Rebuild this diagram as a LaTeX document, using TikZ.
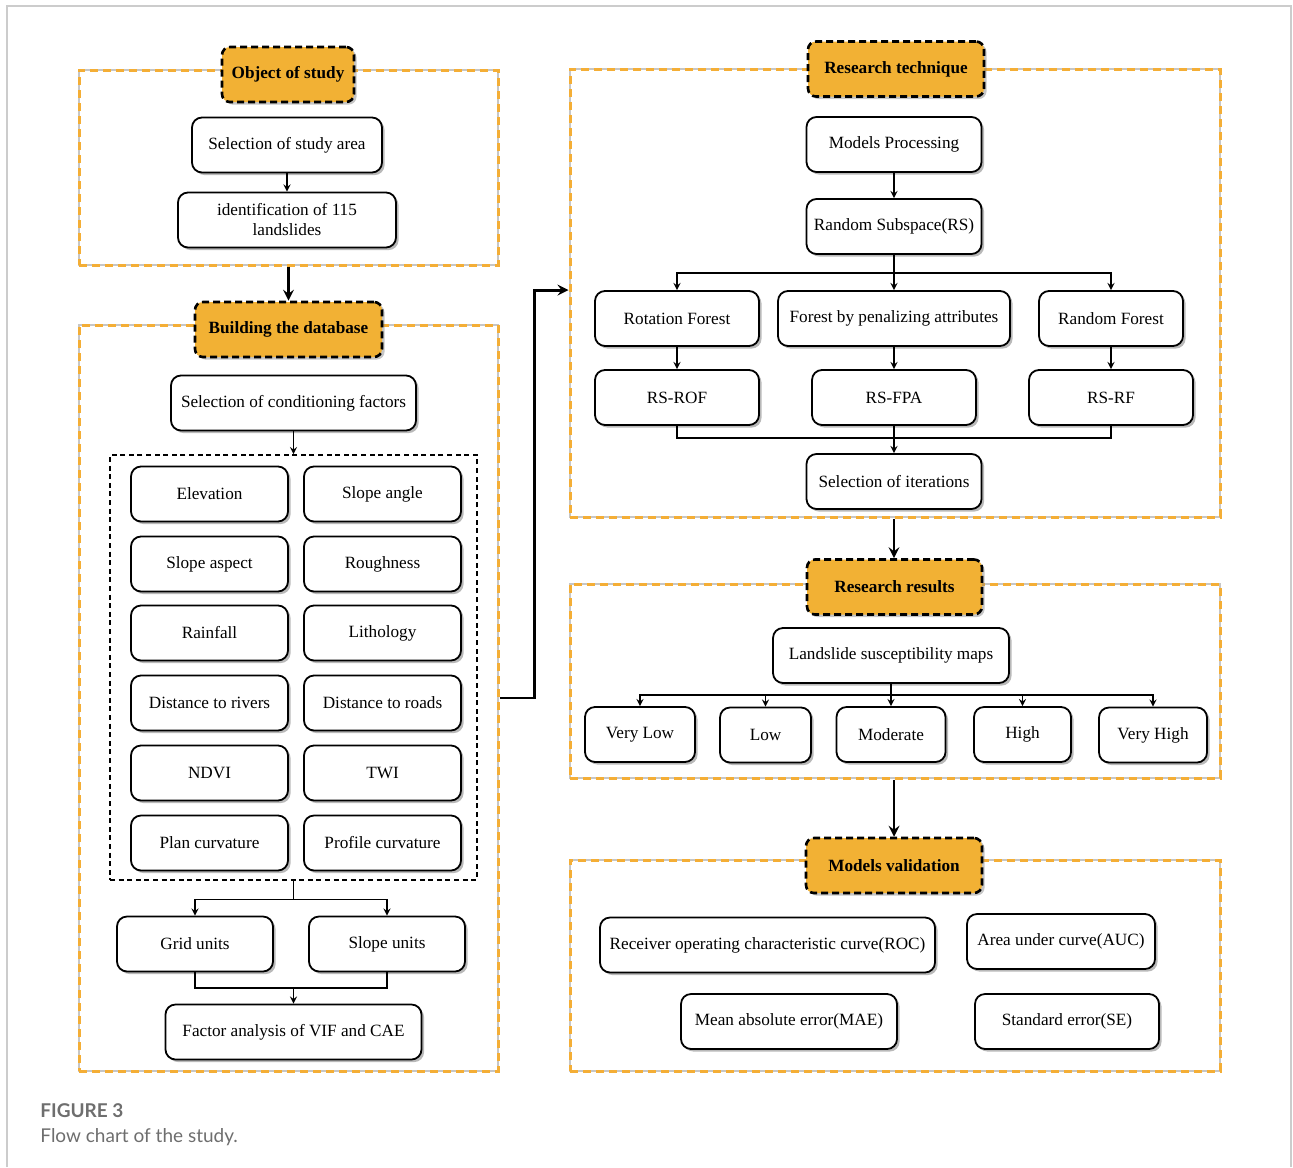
\documentclass[tikz,border=0pt]{standalone}
\usepackage{fontspec}
\setmainfont{Liberation Serif}
\newfontfamily\capfont{Lato}
\usepackage{xcolor}
\usepackage{tikz}
\usetikzlibrary{calc, shadows, arrows}
\definecolor{headfill}{HTML}{F2B134}
\definecolor{framedash}{HTML}{F4AE36}
\definecolor{capgray}{HTML}{6E6E6E}
\tikzstyle{block}    = [rectangle, rounded corners=5pt, draw=black, line width=0.9pt, fill=white, minimum height=27.5pt, inner sep=2pt, text centered, font=\fontsize{8.6}{10}\selectfont, drop shadow={shadow xshift=1.3pt, shadow yshift=-1.3pt, fill=black!50, opacity=0.55}]
\tikzstyle{header}   = [rectangle, rounded corners=4pt, draw=black, dashed, dash pattern=on 3.5pt off 2pt, line width=1.3pt, fill=headfill, minimum height=27.5pt, inner sep=2pt, text centered, font=\fontsize{8.6}{10}\selectfont\bfseries, drop shadow={shadow xshift=1.3pt, shadow yshift=-1.3pt, fill=black!50, opacity=0.45}]
\tikzstyle{stage}    = [rectangle, draw=framedash, dash pattern=on 4pt off 2.5pt, line width=1.5pt, preaction={draw=gray!45, solid, line width=1.1pt}, inner sep=0pt]
\tikzstyle{factorbox}= [rectangle, draw=black, dashed, dash pattern=on 2.5pt off 1.8pt, line width=0.8pt, inner sep=0pt]
\tikzstyle{arrow}    = [line width=0.6pt, ->, >=stealth]
\tikzstyle{link}     = [line width=0.6pt]
\tikzstyle{bigarrow} = [line width=1.4pt, ->, >=stealth]

\begin{document}
\begin{tikzpicture}[x=0.5pt, y=-0.5pt]
    \useasboundingbox (0,0) rectangle (1293,1167);
    \draw [gray!40, line width=1pt] (7,1167) -- (7,6) -- (1291,6) -- (1291,1167);

    % stage frames
    \node (objframe)  [stage, minimum width=209.5pt, minimum height=97.5pt] at (288.5,167.5) {};
    \node (dbframe)   [stage, minimum width=209.5pt, minimum height=373pt]  at (288.5,698) {};
    \node (techframe) [stage, minimum width=325pt,   minimum height=224pt]  at (895,293) {};
    \node (resframe)  [stage, minimum width=325pt,   minimum height=97pt]   at (895,681) {};
    \node (valframe)  [stage, minimum width=325pt,   minimum height=105.5pt] at (895,965.5) {};

    % headers
    \node (objhead)  [header, minimum width=66pt]   at (288,74.5)  {Object of study};
    \node (dbhead)   [header, minimum width=93.5pt] at (288.5,329.5) {Building the database};
    \node (techhead) [header, minimum width=88pt]   at (896,69)    {Research technique};
    \node (reshead)  [header, minimum width=87.5pt] at (894.5,587) {Research results};
    \node (valhead)  [header, minimum width=88pt]   at (894,865.5) {Models validation};

    % object of study
    \node (area)  [block, minimum width=95pt]  at (287,145) {Selection of study area};
    \node (ident) [block, minimum width=109pt, align=center] at (287,220) {identification of 115\\landslides};
    \draw [arrow] (area) -- (ident);

    % building the database
    \node (cond) [block, minimum width=122.5pt] at (293.5,403) {Selection of conditioning factors};
    \node (factors) [factorbox, minimum width=183.5pt, minimum height=212.5pt] at (293.5,667.5) {};
    \node (elev)   [block, minimum width=78.5pt] at (209.5,494) {Elevation};
    \node (angle)  [block, minimum width=78.5pt] at (382.5,494) {Slope angle};
    \node (aspect) [block, minimum width=78.5pt] at (209.5,564) {Slope aspect};
    \node (rough)  [block, minimum width=78.5pt] at (382.5,564) {Roughness};
    \node (rain)   [block, minimum width=78.5pt] at (209.5,633) {Rainfall};
    \node (litho)  [block, minimum width=78.5pt] at (382.5,633) {Lithology};
    \node (rivers) [block, minimum width=78.5pt] at (209.5,703) {Distance to rivers};
    \node (roads)  [block, minimum width=78.5pt] at (382.5,703) {Distance to roads};
    \node (ndvi)   [block, minimum width=78.5pt] at (209.5,773) {NDVI};
    \node (twi)    [block, minimum width=78.5pt] at (382.5,773) {TWI};
    \node (plan)   [block, minimum width=78.5pt] at (209.5,843) {Plan curvature};
    \node (profile)[block, minimum width=78.5pt] at (382.5,843) {Profile curvature};
    \node (grid)  [block, minimum width=78pt]  at (195,944) {Grid units};
    \node (slope) [block, minimum width=78pt]  at (387,944) {Slope units};
    \node (vif)   [block, minimum width=128pt] at (293.5,1032) {Factor analysis of VIF and CAE};
    \coordinate (unitsjoin) at (293.5,988);

    \draw [arrow] (cond) -- (factors.north);
    \draw [arrow] (factors.south) -- ++(0,19) -| (grid.north);
    \draw [arrow] (factors.south) -- ++(0,19) -| (slope.north);
    \draw [link]  (grid.south) |- (unitsjoin) -| (slope.south);
    \draw [arrow] (unitsjoin) -- (vif.north);

    % research technique
    \node (models) [block, minimum width=87.5pt] at (894,144.5) {Models Processing};
    \node (rs)     [block, minimum width=87.5pt] at (894,226.5) {Random Subspace(RS)};
    \node (rof)    [block, minimum width=82pt]   at (677,318.5) {Rotation Forest};
    \node (fpa)    [block, minimum width=116pt]  at (894,318.5) {Forest by penalizing attributes};
    \node (rf)     [block, minimum width=72pt]   at (1111,318.5) {Random Forest};
    \node (rsrof)  [block, minimum width=82pt]   at (677,397.5) {RS-ROF};
    \node (rsfpa)  [block, minimum width=82pt]   at (894,397.5) {RS-FPA};
    \node (rsrf)   [block, minimum width=82pt]   at (1111,397.5) {RS-RF};
    \node (iter)   [block, minimum width=87.5pt] at (894,481.5) {Selection of iterations};
    \coordinate (rsjoin) at (894,438);

    \draw [arrow] (models) -- (rs);
    \draw [arrow] (rs.south) -- ++(0,18) -| (rof.north);
    \draw [arrow] (rs.south) -- (fpa.north);
    \draw [arrow] (rs.south) -- ++(0,18) -| (rf.north);
    \draw [arrow] (rof) -- (rsrof);
    \draw [arrow] (fpa) -- (rsfpa);
    \draw [arrow] (rf) -- (rsrf);
    \draw [link]  (rsrof.south) |- (rsjoin) -| (rsrf.south);
    \draw [arrow] (rsfpa.south) -- (iter.north);

    % research results
    \node (maps)  [block, minimum width=118pt]  at (891,655.5) {Landslide susceptibility maps};
    \node (vlow)  [block, minimum width=55pt]   at (640,734.5) {Very Low};
    \node (low)   [block, minimum width=45.5pt] at (765.5,735) {Low};
    \node (mod)   [block, minimum width=54.5pt] at (891,734.5) {Moderate};
    \node (high)  [block, minimum width=48.5pt] at (1022.5,734.5) {High};
    \node (vhigh) [block, minimum width=54pt]   at (1153,735) {Very High};

    \draw [arrow] (maps.south) -- ++(0,11) -| (vlow.north);
    \draw [arrow] (maps.south) -- ++(0,11) -| (low.north);
    \draw [arrow] (maps.south) -- (mod.north);
    \draw [arrow] (maps.south) -- ++(0,11) -| (high.north);
    \draw [arrow] (maps.south) -- ++(0,11) -| (vhigh.north);

    % models validation
    \node (roc) [block, minimum width=167.5pt] at (767.5,945) {Receiver operating characteristic curve(ROC)};
    \node (auc) [block, minimum width=94pt]    at (1061,941.5) {Area under curve(AUC)};
    \node (mae) [block, minimum width=108pt]   at (789,1021.5) {Mean absolute error(MAE)};
    \node (se)  [block, minimum width=92pt]    at (1067,1021.5) {Standard error(SE)};

    % stage links
    \draw [bigarrow] (objframe.south) -- (dbhead.north);
    \draw [bigarrow] (dbframe.east) -- ++(35,0) |- (techframe.west |- rof.north);
    \draw [bigarrow] (techframe.south -| iter.south) -- (reshead.north -| iter.south);
    \draw [bigarrow] (resframe.south -| iter.south) -- (valhead.north -| iter.south);

    % caption
    \node (figlabel) [anchor=base west, inner sep=0pt, font=\capfont\fontsize{9.5}{11}\selectfont\bfseries, text=capgray] at (40,1117) {FIGURE 3};
    \node (figtext)  [anchor=base west, inner sep=0pt, font=\capfont\fontsize{9.5}{11}\selectfont, text=capgray] at (40,1142) {Flow chart of the study.};
\end{tikzpicture}
\end{document}
